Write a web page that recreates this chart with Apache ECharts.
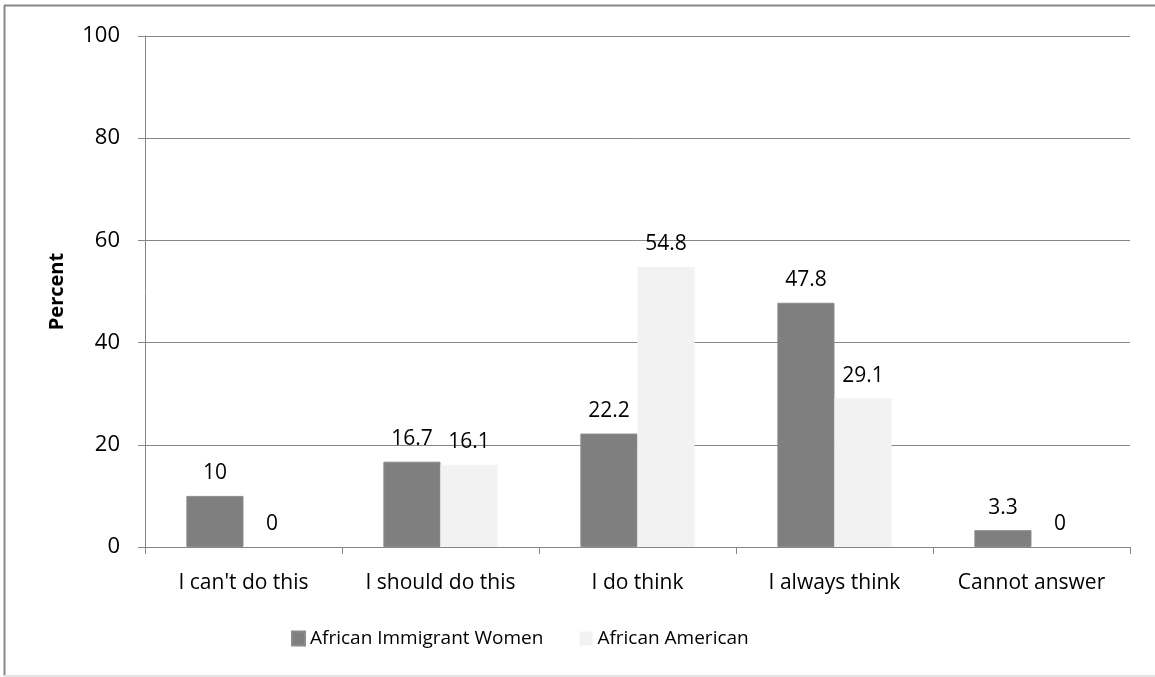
<!DOCTYPE html>
<html>
<head>
<meta charset="utf-8">
<style>
  html, body { margin: 0; padding: 0; background: #fff; }
  #chart { width: 1155px; height: 677px; }
</style>
<script src="https://cdn.jsdelivr.net/npm/echarts@6/dist/echarts.min.js"></script>
</head>
<body>
<div id="chart"></div>
<script>
// Responses by group (percent)
const categories = ["I can't do this", "I should do this", "I do think", "I always think", "Cannot answer"];
const immigrantWomen = [10, 16.7, 22.2, 47.8, 3.3];
const africanAmerican = [0, 16.1, 54.8, 29.1, 0];
const seriesNames = ["African Immigrant Women", "African American"];
const yTicks = { min: 0, max: 100, interval: 20 };

const FONT = '"Open Sans", "Noto Sans", sans-serif';
const AXIS_GRAY = '#868686';

const chart = echarts.init(document.getElementById('chart'), null, { renderer: 'canvas' });

const valueLabel = {
  show: true,
  position: 'top',
  distance: 12,
  color: '#000',
  fontFamily: FONT,
  fontSize: 21
};

chart.setOption({
  animation: false,
  backgroundColor: '#fff',
  textStyle: { fontFamily: FONT },
  grid: { left: 145, right: 25, top: 36, bottom: 130, containLabel: false },
  legend: {
    data: seriesNames,
    top: 629,
    left: 291,
    padding: 0,
    itemWidth: 13,
    itemHeight: 14,
    itemGap: 36,
    icon: 'rect',
    textStyle: { fontFamily: FONT, fontSize: 19, color: '#000' }
  },
  xAxis: {
    type: 'category',
    data: categories,
    axisLine: { lineStyle: { color: AXIS_GRAY, width: 1 } },
    axisTick: { show: true, length: 7, alignWithLabel: false, lineStyle: { color: AXIS_GRAY } },
    axisLabel: { color: '#000', fontFamily: FONT, fontSize: 21, margin: 26, interval: 0, hideOverlap: false }
  },
  yAxis: {
    type: 'value',
    min: yTicks.min,
    max: yTicks.max,
    interval: yTicks.interval,
    name: 'Percent',
    nameLocation: 'middle',
    nameGap: 78,
    nameTextStyle: { color: '#000', fontFamily: FONT, fontSize: 20, fontWeight: 'bold' },
    axisLine: { show: true, lineStyle: { color: AXIS_GRAY, width: 1 } },
    axisTick: { show: true, length: 7, lineStyle: { color: AXIS_GRAY } },
    axisLabel: { color: '#000', fontFamily: FONT, fontSize: 22, margin: 25 },
    splitLine: { show: true, lineStyle: { color: AXIS_GRAY, width: 1 } }
  },
  series: [
    {
      name: seriesNames[0],
      type: 'bar',
      data: immigrantWomen,
      barGap: '0%',
      barCategoryGap: '42%',
      itemStyle: { color: '#7f7f7f', borderColor: '#8c8c8c', borderWidth: 1 },
      label: valueLabel
    },
    {
      name: seriesNames[1],
      type: 'bar',
      data: africanAmerican,
      barGap: '0%',
      barCategoryGap: '42%',
      itemStyle: { color: '#f2f2f2' },
      label: valueLabel
    }
  ],
  graphic: [
    // chart frame: left and top edges dark, bottom edge pale
    { type: 'line', silent: true, shape: { x1: 4.5, y1: 5.5, x2: 4.5, y2: 676 }, style: { stroke: '#878787', lineWidth: 2 } },
    { type: 'line', silent: true, shape: { x1: 4, y1: 5.5, x2: 1155, y2: 5.5 }, style: { stroke: '#878787', lineWidth: 2 } },
    { type: 'line', silent: true, shape: { x1: 4, y1: 676, x2: 1155, y2: 676 }, style: { stroke: '#e3e3e3', lineWidth: 2 } }
  ]
});
</script>
</body>
</html>
